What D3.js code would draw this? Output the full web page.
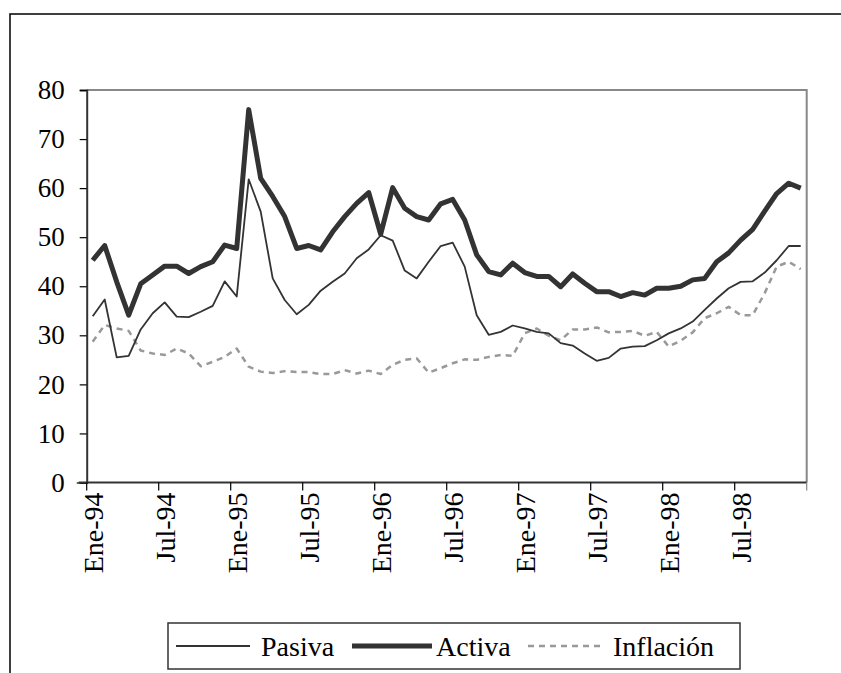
<!DOCTYPE html>
<meta charset="utf-8">
<style>
body { margin: 0; background: #fff; }
text { font-family: "Liberation Serif", "Times New Roman", serif; fill: #000; }
</style>
<svg width="841" height="673"></svg>
<script src="https://d3js.org/d3.v7.min.js"></script>
<script>
// meses Ene-94 .. Dic-98
var meses = ["Ene","Feb","Mar","Abr","May","Jun","Jul","Ago","Sep","Oct","Nov","Dic"];
var anios = ["94","95","96","97","98"];
var fechas = [];
anios.forEach(function(a) { meses.forEach(function(m) { fechas.push(m + "-" + a); }); });

var pasiva = [33.9,37.3,25.5,25.8,31.2,34.5,36.7,33.8,33.7,34.8,36.0,41.0,
              37.9,61.8,55.2,41.6,37.2,34.3,36.2,39.1,40.9,42.6,45.7,47.5,
              50.4,49.3,43.2,41.6,45.0,48.2,48.9,44.0,34.1,30.1,30.7,32.0,
              31.4,30.7,30.4,28.4,27.9,26.3,24.8,25.4,27.3,27.7,27.8,29.0,
              30.4,31.4,32.8,35.2,37.5,39.6,40.9,41.0,42.8,45.3,48.2,48.2];
var activa = [45.3,48.3,40.9,34.1,40.5,42.3,44.1,44.1,42.6,44.0,45.0,48.4,
              47.7,76.0,62.0,58.3,54.2,47.7,48.3,47.4,51.1,54.2,56.9,59.1,
              50.6,60.1,55.9,54.2,53.5,56.8,57.7,53.5,46.4,43.0,42.3,44.7,
              42.8,42.0,42.0,39.9,42.5,40.6,38.9,38.9,37.9,38.7,38.2,39.6,
              39.6,40.0,41.3,41.6,45.0,46.8,49.4,51.6,55.3,58.9,61.0,60.0];
var inflacion = [28.7,32.1,31.4,30.9,26.9,26.3,26.0,27.3,26.3,23.7,24.6,25.6,
                 27.3,23.6,22.6,22.3,22.7,22.5,22.5,22.1,22.1,22.9,22.2,22.8,
                 22.1,24.0,25.0,25.3,22.4,23.3,24.3,25.1,25.0,25.6,26.0,25.8,
                 30.4,31.4,29.9,29.0,31.2,31.2,31.6,30.6,30.7,30.9,29.9,30.7,
                 27.7,28.9,30.6,33.5,34.5,35.8,34.1,34.1,38.6,44.0,45.0,43.5];
var yTicks = [0,10,20,30,40,50,60,70,80];

var series = [
  {name: "Pasiva", values: pasiva, color: "#333", width: 1.8, dash: null},
  {name: "Activa", values: activa, color: "#333", width: 5, dash: null},
  {name: "Inflación", values: inflacion, color: "#999", width: 2.5, dash: "6,5"}
];

var svg = d3.select("svg");
var pLeft = 86.7, pRight = 806.7, pTop = 90, pBottom = 482.5;

// marco exterior
svg.append("rect")
    .attr("x", 10).attr("y", 14)
    .attr("width", 900).attr("height", 700)
    .attr("fill", "none").attr("stroke", "#000").attr("stroke-width", 1.5);

var x = d3.scaleBand().domain(fechas).range([pLeft, pRight]).padding(0);
var y = d3.scaleLinear().domain([0, 80]).range([pBottom, pTop]);

// borde superior y derecho del area de grafico
svg.append("path")
    .attr("d", "M" + pLeft + "," + pTop + "H" + pRight + "V" + pBottom)
    .attr("fill", "none").attr("stroke", "#888").attr("stroke-width", 2);

// eje Y
var yAxis = svg.append("g").attr("transform", "translate(" + pLeft + ",0)")
    .call(d3.axisLeft(y).tickValues(yTicks).tickSize(7).tickPadding(15));
yAxis.select(".domain").attr("stroke", "#333").attr("stroke-width", 2);
yAxis.selectAll(".tick line").attr("stroke", "#000").attr("stroke-width", 1.2);
yAxis.selectAll("text").style("font-size", "27px").attr("fill", "#000");
yAxis.selectAll(".tick").filter(function(d) { return d === 0; }).select("line").attr("x2", -10);

// eje X
var xTickCats = fechas.filter(function(d, i) { return i % 6 === 0; });
var xg = svg.append("g");
xg.append("line")
    .attr("x1", pLeft - 8).attr("x2", pRight)
    .attr("y1", pBottom).attr("y2", pBottom)
    .attr("stroke", "#333").attr("stroke-width", 2);
xg.selectAll("line.tk")
    .data(xTickCats.concat(["fin"]))
    .enter().append("line").attr("class", "tk")
    .attr("x1", function(d) { return d === "fin" ? pRight : x(d); })
    .attr("x2", function(d) { return d === "fin" ? pRight : x(d); })
    .attr("y1", pBottom).attr("y2", pBottom + 8)
    .attr("stroke", function(d) { return d === "fin" ? "#888" : "#000"; })
    .attr("stroke-width", 1.2);
xg.selectAll("text")
    .data(xTickCats)
    .enter().append("text")
    .attr("transform", function(d) {
      return "translate(" + (x(d) + x.bandwidth() / 2) + "," + (pBottom + 10) + ") rotate(-90)";
    })
    .attr("dy", "0.35em")
    .attr("text-anchor", "end")
    .style("font-size", "28px")
    .text(function(d) { return d; });

// lineas
var line = d3.line()
    .x(function(d, i) { return x(fechas[i]) + x.bandwidth() / 2; })
    .y(function(d) { return y(d); });

svg.selectAll("path.serie")
    .data([series[2], series[0], series[1]])
    .enter().append("path").attr("class", "serie")
    .attr("d", function(s) { return line(s.values); })
    .attr("fill", "none")
    .attr("stroke", function(s) { return s.color; })
    .attr("stroke-width", function(s) { return s.width; })
    .attr("stroke-dasharray", function(s) { return s.dash; })
    .attr("stroke-linejoin", "round");

// leyenda
var leg = svg.append("g");
leg.append("rect")
    .attr("x", 168).attr("y", 623).attr("width", 572).attr("height", 46)
    .attr("fill", "#fff").attr("stroke", "#333").attr("stroke-width", 1.5);
var legX = [[176, 250, 261], [352, 432, 436], [528, 605, 613]];
series.forEach(function(s, i) {
  leg.append("line")
      .attr("x1", legX[i][0]).attr("x2", legX[i][1])
      .attr("y1", 646).attr("y2", 646)
      .attr("stroke", s.color).attr("stroke-width", s.width)
      .attr("stroke-dasharray", s.dash);
  leg.append("text")
      .attr("x", legX[i][2]).attr("y", 656)
      .style("font-size", "28px")
      .text(s.name);
});
</script>
